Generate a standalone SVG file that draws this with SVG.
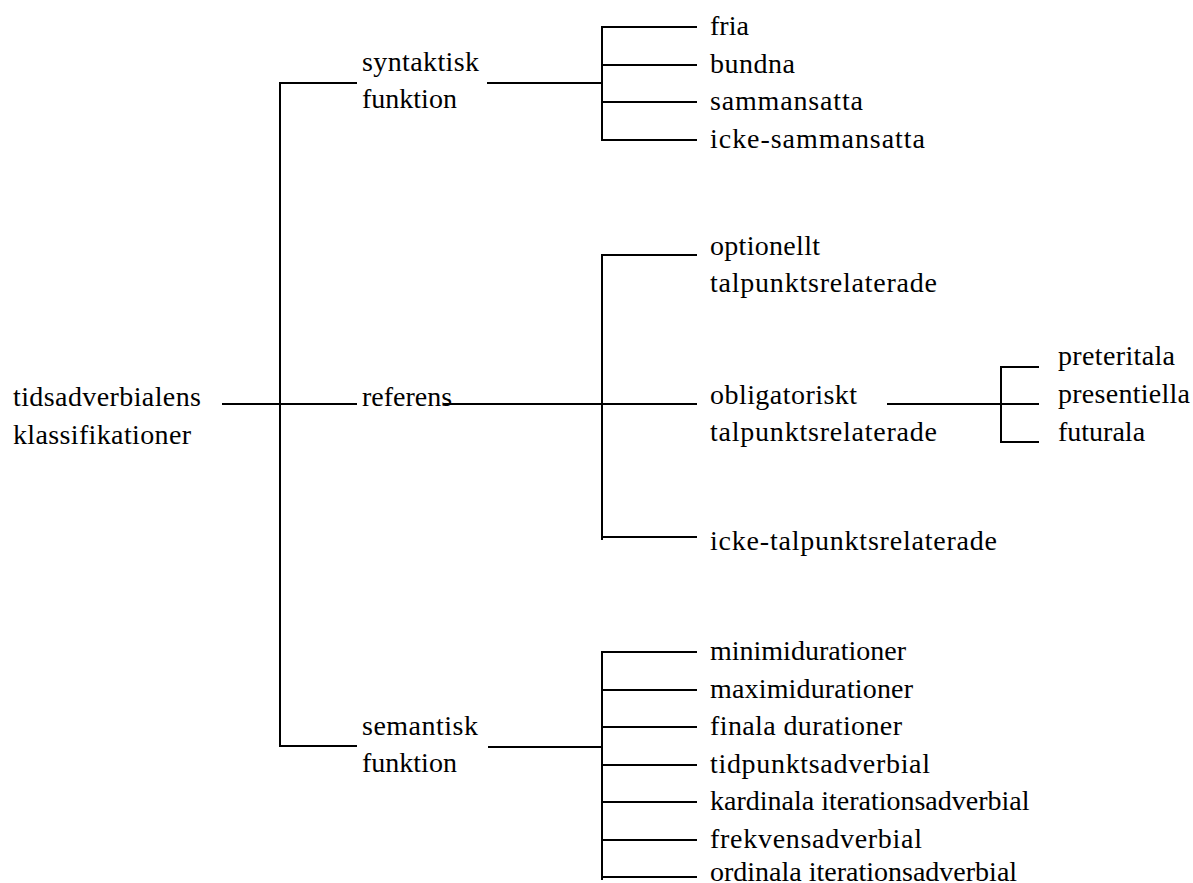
<svg xmlns="http://www.w3.org/2000/svg" width="1193" height="883" viewBox="0 0 1193 883">
<style>
text{font-family:"Liberation Serif","Times New Roman",serif;font-size:28px;fill:#000}
.c line{stroke:#000;stroke-width:2;fill:none}
</style>
<rect width="1193" height="883" fill="#fff"/>
<g class="c" id="connectors">
<line x1="222" y1="404" x2="357" y2="404"/>
<line x1="280" y1="82" x2="280" y2="747"/>
<line x1="280" y1="83" x2="357" y2="83"/>
<line x1="280" y1="746" x2="357" y2="746"/>
<line x1="487" y1="83" x2="602" y2="83"/>
<line x1="602" y1="26" x2="602" y2="141"/>
<line x1="602" y1="27" x2="697" y2="27"/>
<line x1="602" y1="65" x2="697" y2="65"/>
<line x1="602" y1="102" x2="697" y2="102"/>
<line x1="602" y1="140" x2="697" y2="140"/>
<line x1="443" y1="404" x2="697" y2="404"/>
<line x1="602" y1="254" x2="602" y2="540"/>
<line x1="602" y1="255" x2="697" y2="255"/>
<line x1="602" y1="537" x2="697" y2="537"/>
<line x1="887" y1="404" x2="1039" y2="404"/>
<line x1="1001" y1="366" x2="1001" y2="443"/>
<line x1="1001" y1="367" x2="1039" y2="367"/>
<line x1="1001" y1="442" x2="1039" y2="442"/>
<line x1="488" y1="747" x2="602" y2="747"/>
<line x1="602" y1="651" x2="602" y2="880"/>
<line x1="602" y1="652" x2="697" y2="652"/>
<line x1="602" y1="690" x2="697" y2="690"/>
<line x1="602" y1="727" x2="697" y2="727"/>
<line x1="602" y1="765" x2="697" y2="765"/>
<line x1="602" y1="802" x2="697" y2="802"/>
<line x1="602" y1="840" x2="697" y2="840"/>
<line x1="602" y1="877" x2="697" y2="877"/>
</g>
<g id="root"><text x="13" y="406" textLength="188" lengthAdjust="spacing">tidsadverbialens</text><text x="13" y="444" textLength="178" lengthAdjust="spacing">klassifikationer</text></g>
<g id="syntaktisk"><text x="362" y="71" textLength="117" lengthAdjust="spacing">syntaktisk</text><text x="362" y="108">funktion</text></g>
<g id="referens"><text x="362" y="406">referens</text></g>
<g id="semantisk"><text x="362" y="735" textLength="116" lengthAdjust="spacing">semantisk</text><text x="362" y="772">funktion</text></g>
<g id="fria"><text x="710" y="35">fria</text></g>
<g id="bundna"><text x="710" y="73" textLength="85" lengthAdjust="spacing">bundna</text></g>
<g id="sammansatta"><text x="710" y="110" textLength="153" lengthAdjust="spacing">sammansatta</text></g>
<g id="icke-sammansatta"><text x="710" y="148" textLength="215" lengthAdjust="spacing">icke-sammansatta</text></g>
<g id="optionellt"><text x="710" y="255" textLength="110" lengthAdjust="spacing">optionellt</text><text x="710" y="292" textLength="227" lengthAdjust="spacing">talpunktsrelaterade</text></g>
<g id="obligatoriskt"><text x="710" y="404" textLength="147" lengthAdjust="spacing">obligatoriskt</text><text x="710" y="441" textLength="227" lengthAdjust="spacing">talpunktsrelaterade</text></g>
<g id="icke-talpunkt"><text x="710" y="550" textLength="287" lengthAdjust="spacing">icke-talpunktsrelaterade</text></g>
<g id="preteritala"><text x="1058" y="365" textLength="117" lengthAdjust="spacing">preteritala</text></g>
<g id="presentiella"><text x="1058" y="403" textLength="132" lengthAdjust="spacing">presentiella</text></g>
<g id="futurala"><text x="1058" y="441">futurala</text></g>
<g id="minimi"><text x="710" y="660">minimidurationer</text></g>
<g id="maximi"><text x="710" y="698" textLength="203" lengthAdjust="spacing">maximidurationer</text></g>
<g id="finala"><text x="710" y="735" textLength="192" lengthAdjust="spacing">finala durationer</text></g>
<g id="tidpunkt"><text x="710" y="773" textLength="220" lengthAdjust="spacing">tidpunktsadverbial</text></g>
<g id="kardinala"><text x="710" y="810">kardinala iterationsadverbial</text></g>
<g id="frekvens"><text x="710" y="848" textLength="212" lengthAdjust="spacing">frekvensadverbial</text></g>
<g id="ordinala"><text x="710" y="881">ordinala iterationsadverbial</text></g>
</svg>
